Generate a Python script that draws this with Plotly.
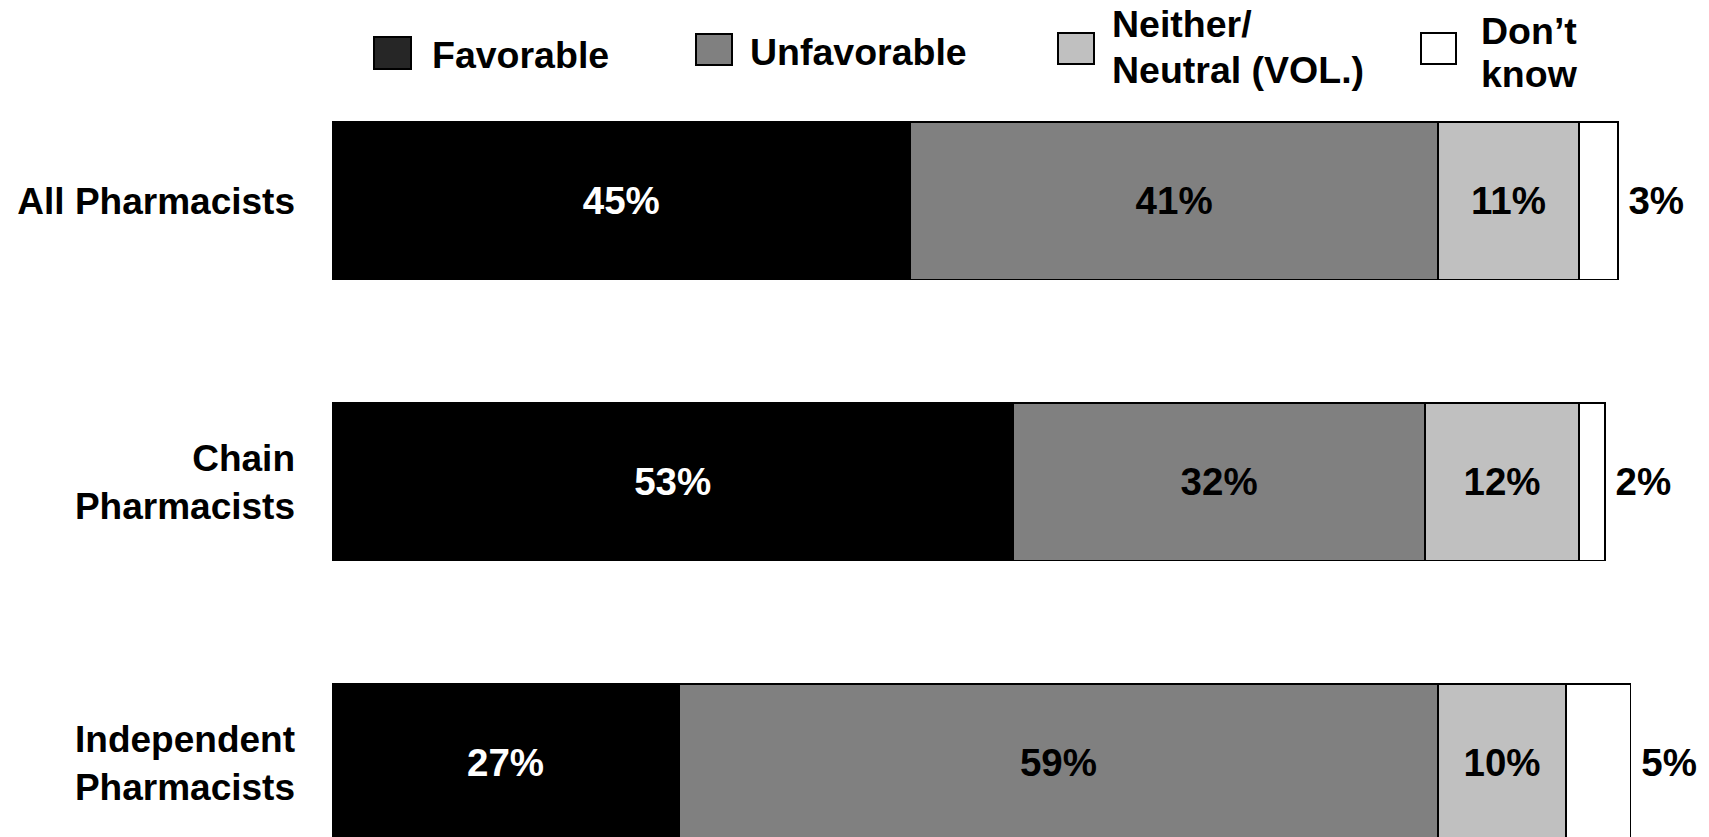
import plotly.graph_objects as go

# ---- data ----
categories = ["All Pharmacists", "Chain<br>Pharmacists", "Independent<br>Pharmacists"]
series_names = ["Favorable", "Unfavorable", "Neither/<br>Neutral (VOL.)", "Don’t<br>know"]
favorable = [45, 53, 27]
unfavorable = [41, 32, 59]
neither = [11, 12, 10]
dont_know = [3, 2, 5]

# ---- styles ----
bar_colors = ["#000000", "#808080", "#C0C0C0", "#FFFFFF"]
legend_colors = ["#262626", "#808080", "#C0C0C0", "#FFFFFF"]
text_colors = ["#FFFFFF", "#000000", "#000000", "#000000"]
FONT = "Liberation Sans, Arial, sans-serif"

W_FIG, H_FIG = 1709, 837
L, R, T, B = 332, 27, 110, 0
PW, PH = W_FIG - L - R, H_FIG - T - B

def px_x(px):
    return (px - L) / PW

def px_y(py):
    return 1 - (py - T) / PH

fig = go.Figure()
series_values = [favorable, unfavorable, neither, dont_know]
for i, (name, vals) in enumerate(zip(series_names, series_values)):
    outside = i == 3
    fig.add_trace(go.Bar(
        y=categories, x=vals, orientation="h", name=name,
        marker=dict(color=bar_colors[i], line=dict(color="#000000", width=1.6)),
        text=[("\u2009" if outside else "") + f"{v}%" for v in vals],
        textposition="outside" if outside else "inside",
        insidetextanchor="middle",
        constraintext="none",
        textfont=dict(family=FONT, size=38.5, color=text_colors[i], weight="bold"),
        showlegend=False,
        cliponaxis=False,
    ))

# custom legend (swatch squares + labels)
legend_sq = [(374, 411, 37, 69), (696, 732, 34, 65), (1058, 1094, 33, 64), (1421, 1456, 33, 64)]
legend_text_x = [429.5, 747.5, 1109.5, 1478.5]
legend_line_y = [[55.5], [52], [24, 70], [31, 74]]
for i, name in enumerate(series_names):
    x0, x1, y0, y1 = legend_sq[i]
    fig.add_shape(type="rect", xref="paper", yref="paper",
                  x0=px_x(x0), x1=px_x(x1), y0=px_y(y1), y1=px_y(y0),
                  fillcolor=legend_colors[i], line=dict(color="#000000", width=2))
    for line_txt, ly in zip(name.split("<br>"), legend_line_y[i]):
        fig.add_annotation(xref="paper", yref="paper", x=px_x(legend_text_x[i]), y=px_y(ly),
                           text=line_txt, showarrow=False, xanchor="left", yanchor="middle",
                           font=dict(family=FONT, size=37.5, color="#000000", weight="bold"))

fig.update_layout(
    width=W_FIG, height=H_FIG,
    margin=dict(l=L, r=R, t=T, b=B, pad=0),
    barmode="stack", bargap=0.44,
    plot_bgcolor="white", paper_bgcolor="white",
    font=dict(family=FONT, color="#000000"),
    xaxis=dict(range=[0, 105], visible=False, showgrid=False, zeroline=False),
    yaxis=dict(type="category", categoryorder="array", categoryarray=categories,
               range=[2.2644, -0.3228], showgrid=False, zeroline=False, showline=False,
               ticks="", ticklabelstandoff=36,
               tickfont=dict(family=FONT, size=37, color="#000000", weight="bold")),
)

fig.write_html("out.html")
